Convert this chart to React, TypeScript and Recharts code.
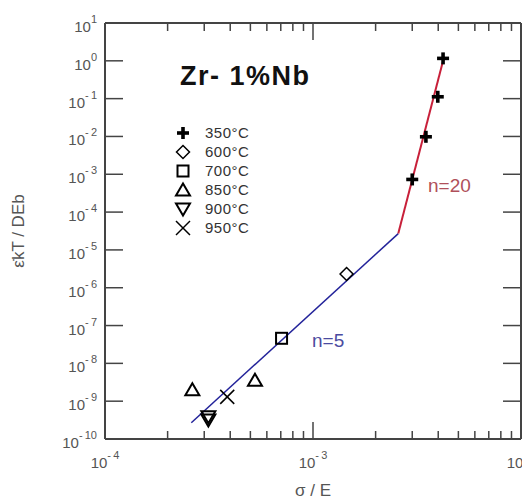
import { ScatterChart, Scatter, XAxis, YAxis } from 'recharts';

// creep data for Zr-1%Nb
const temps = ['350°C', '600°C', '700°C', '850°C', '900°C', '950°C'];

const sigma350 = [3.0e-3, 3.49e-3, 3.98e-3, 4.22e-3];
const rate350 = [7.3e-4, 9.8e-3, 0.112, 1.16];
const sigma600 = [1.45e-3];
const rate600 = [2.3e-6];
const sigma700 = [7.06e-4];
const rate700 = [4.6e-8];
const sigma850 = [2.63e-4, 5.26e-4];
const rate850 = [2.0e-9, 3.6e-9];
const sigma900 = [3.14e-4, 3.14e-4];
const rate900 = [3.9e-10, 3.2e-10];
const sigma950 = [3.87e-4];
const rate950 = [1.3e-9];

// power-law fits
const fitN5Sigma = [2.6e-4, 2.57e-3];
const fitN5Rate = [2.7e-10, 2.7e-5];
const fitN20Sigma = [2.57e-3, 4.27e-3];
const fitN20Rate = [2.7e-5, 1.28];

const xTicks = [
  1e-4, 2e-4, 3e-4, 4e-4, 5e-4, 6e-4, 7e-4, 8e-4, 9e-4,
  1e-3, 2e-3, 3e-3, 4e-3, 5e-3, 6e-3, 7e-3, 8e-3, 9e-3,
  1e-2,
];
const yTicks = [1e-10, 1e-9, 1e-8, 1e-7, 1e-6, 1e-5, 1e-4, 1e-3, 1e-2, 1e-1, 1, 10];

const zip = (xs: number[], ys: number[]) => xs.map((x, i) => ({ x, y: ys[i] }));

const AXIS = '#444';
const LABEL = '#555';
const RED = '#c8203a';
const BLUE = '#23239a';
const FONT = '"Liberation Sans", Arial, sans-serif';

const W = 522;
const H = 502;

const isDecade = (v: number) => {
  const e = Math.log10(v);
  return Math.abs(e - Math.round(e)) < 1e-6;
};
const expText = (v: number) => {
  const e = Math.round(Math.log10(v));
  return e < 0 ? `-\u2009${-e}` : String(e);
};

function BottomTick({ x, y, payload }: any) {
  const major = isDecade(payload.value);
  return (
    <g>
      <line x1={x} x2={x} y1={y} y2={y - (major ? 17 : 8)} stroke={AXIS} strokeWidth={1.5} />
      {major && (
        <text x={x} y={y + 29} textAnchor="middle" fill={LABEL} fontSize={15} fontFamily={FONT}>
          10
          <tspan dy={-9} fontSize={11}>{expText(payload.value)}</tspan>
        </text>
      )}
    </g>
  );
}

function TopTick({ x, y, payload }: any) {
  const major = isDecade(payload.value);
  return <line x1={x} x2={x} y1={y} y2={y + (major ? 17 : 8)} stroke={AXIS} strokeWidth={1.5} />;
}

function LeftTick({ x, y, payload }: any) {
  return (
    <g>
      <line x1={x} x2={x + 18} y1={y} y2={y} stroke={AXIS} strokeWidth={1.5} />
      <text x={x - 8} y={y + 9} textAnchor="end" fill={LABEL} fontSize={15} fontFamily={FONT}>
        10
        <tspan dy={-9} fontSize={11}>{expText(payload.value)}</tspan>
      </text>
    </g>
  );
}

function RightTick({ x, y }: any) {
  return <line x1={x} x2={x - 18} y1={y} y2={y} stroke={AXIS} strokeWidth={1.5} />;
}

// marker glyphs, one per temperature
const markers: ((cx: number, cy: number) => JSX.Element)[] = [
  (cx, cy) => (
    <g fill="#000">
      <rect x={cx - 6} y={cy - 1.8} width={12} height={3.6} />
      <rect x={cx - 1.8} y={cy - 6} width={3.6} height={12} />
    </g>
  ),
  (cx, cy) => (
    <polygon
      points={`${cx},${cy - 6.5} ${cx + 6.5},${cy} ${cx},${cy + 6.5} ${cx - 6.5},${cy}`}
      fill="none"
      stroke="#000"
      strokeWidth={1.5}
    />
  ),
  (cx, cy) => <rect x={cx - 5.5} y={cy - 5.5} width={11} height={11} fill="none" stroke="#000" strokeWidth={2} />,
  (cx, cy) => (
    <polygon
      points={`${cx},${cy - 6.5} ${cx + 7},${cy + 5.5} ${cx - 7},${cy + 5.5}`}
      fill="none"
      stroke="#000"
      strokeWidth={2}
    />
  ),
  (cx, cy) => (
    <polygon
      points={`${cx},${cy + 6.5} ${cx + 7},${cy - 5.5} ${cx - 7},${cy - 5.5}`}
      fill="none"
      stroke="#000"
      strokeWidth={2}
    />
  ),
  (cx, cy) => (
    <g stroke="#000" strokeWidth={1.5}>
      <line x1={cx - 7} y1={cy - 7} x2={cx + 7} y2={cy + 7} />
      <line x1={cx - 7} y1={cy + 7} x2={cx + 7} y2={cy - 7} />
    </g>
  ),
];

const series = [
  zip(sigma350, rate350),
  zip(sigma600, rate600),
  zip(sigma700, rate700),
  zip(sigma850, rate850),
  zip(sigma900, rate900),
  zip(sigma950, rate950),
];

const noDot = () => <g />;

export default function App() {
  return (
    <div style={{ position: 'absolute', left: 0, top: 0, width: W, height: H, background: '#fff' }}>
      <ScatterChart width={W} height={H} margin={{ top: 0, right: 0, bottom: 0, left: 0 }}>
        <XAxis
          dataKey="x"
          type="number"
          scale="log"
          domain={[1e-4, 1e-2]}
          allowDataOverflow
          ticks={xTicks}
          interval={0}
          height={63}
          tickLine={false}
          tickSize={0}
          tickMargin={0}
          axisLine={{ stroke: AXIS, strokeWidth: 2 }}
          tick={<BottomTick />}
        />
        <XAxis
          xAxisId="top"
          orientation="top"
          dataKey="x"
          type="number"
          scale="log"
          domain={[1e-4, 1e-2]}
          allowDataOverflow
          ticks={xTicks}
          interval={0}
          height={23}
          tickLine={false}
          tickSize={0}
          tickMargin={0}
          axisLine={{ stroke: AXIS, strokeWidth: 2 }}
          tick={<TopTick />}
        />
        <YAxis
          dataKey="y"
          type="number"
          scale="log"
          domain={[1e-10, 10]}
          allowDataOverflow
          ticks={yTicks}
          interval={0}
          width={105}
          tickLine={false}
          tickSize={0}
          tickMargin={0}
          axisLine={{ stroke: AXIS, strokeWidth: 2 }}
          tick={<LeftTick />}
        />
        <YAxis
          yAxisId="right"
          orientation="right"
          dataKey="y"
          type="number"
          scale="log"
          domain={[1e-10, 10]}
          allowDataOverflow
          ticks={yTicks}
          interval={0}
          width={1}
          tickLine={false}
          tickSize={0}
          tickMargin={0}
          axisLine={{ stroke: AXIS, strokeWidth: 2 }}
          tick={<RightTick />}
        />
        <Scatter
          name="n=5"
          data={zip(fitN5Sigma, fitN5Rate)}
          line={{ stroke: BLUE, strokeWidth: 1.5 }}
          shape={noDot}
          isAnimationActive={false}
        />
        <Scatter
          name="n=20"
          data={zip(fitN20Sigma, fitN20Rate)}
          line={{ stroke: RED, strokeWidth: 2 }}
          shape={noDot}
          isAnimationActive={false}
        />
        {series.map((data, i) => (
          <Scatter
            key={temps[i]}
            name={temps[i]}
            data={data}
            shape={(p: any) => markers[i](p.cx, p.cy)}
            isAnimationActive={false}
          />
        ))}
      </ScatterChart>
      <svg
        width={W}
        height={H}
        style={{ position: 'absolute', left: 0, top: 0, pointerEvents: 'none' }}
        fontFamily={FONT}
      >
        <text x={180} y={85} fontSize={27} fontWeight="bold" letterSpacing={1.5} fill="#111">
          Zr- 1%Nb
        </text>
        {temps.map((t, i) => (
          <g key={t}>
            {markers[i](183, 133 + i * 19)}
            <text x={205} y={138 + i * 19} fontSize={15} letterSpacing={0.5} fill="#333">
              {t}
            </text>
          </g>
        ))}
        <text x={428} y={192} fontSize={19} fill="#b0505a">n=20</text>
        <text x={312} y={347} fontSize={19} fill="#4b4ba0">n=5</text>
        <text x={313} y={496} fontSize={17} textAnchor="middle" fill={LABEL}>σ / E</text>
        <text
          x={24}
          y={231}
          fontSize={17}
          textAnchor="middle"
          fill={LABEL}
          transform="rotate(-90 24 231)"
        >
          ε̇kT / DEb
        </text>
      </svg>
    </div>
  );
}
